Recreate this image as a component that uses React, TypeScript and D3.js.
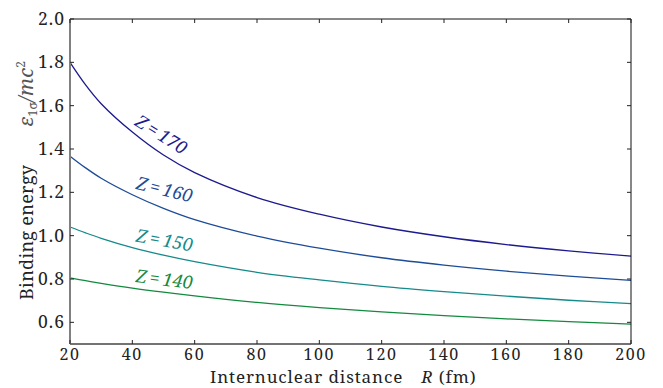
import React from "react";
import * as d3 from "d3";

const distances = [20, 25, 30, 40, 50, 60, 80, 100, 120, 140, 160, 180, 200];
const z170 = [1.80, 1.696, 1.609, 1.478, 1.372, 1.291, 1.176, 1.099, 1.040, 0.995, 0.959, 0.930, 0.906];
const z160 = [1.367, 1.313, 1.265, 1.189, 1.126, 1.074, 0.998, 0.942, 0.898, 0.864, 0.836, 0.813, 0.794];
const z150 = [1.040, 1.013, 0.988, 0.945, 0.910, 0.880, 0.831, 0.796, 0.766, 0.742, 0.721, 0.702, 0.686];
const z140 = [0.805, 0.792, 0.780, 0.758, 0.739, 0.722, 0.692, 0.668, 0.648, 0.631, 0.616, 0.603, 0.592];
const seriesNames = ["170", "160", "150", "140"];
const seriesColors = ["#1c1a8e", "#1d4c98", "#168a8a", "#138a3e"];
const xTicks = [20, 40, 60, 80, 100, 120, 140, 160, 180, 200];
const yTicks = [0.6, 0.8, 1.0, 1.2, 1.4, 1.6, 1.8, 2.0];
// label anchor distances & rotations
const labelR = [39.5, 40, 40, 40];
const labelRot = [32, 14, 10, 7];

export default function App() {
  const W = 663, H = 388;
  const left = 70, right = 631, top = 19, bottom = 344;
  const x = d3.scaleLinear().domain([20, 200]).range([left, right]);
  const y = d3.scaleLinear().domain([0.5, 2.0]).range([bottom, top]);
  const all = [z170, z160, z150, z140];
  const line = d3
    .line<number>()
    .x((_, i) => x(distances[i]))
    .y((d) => y(d))
    .curve(d3.curveCatmullRom.alpha(0.5));
  const interp = (arr: number[], r: number) => {
    for (let i = 0; i < distances.length - 1; i++) {
      if (r >= distances[i] && r <= distances[i + 1]) {
        const t = (r - distances[i]) / (distances[i + 1] - distances[i]);
        return arr[i] + t * (arr[i + 1] - arr[i]);
      }
    }
    return arr[arr.length - 1];
  };
  const font = "'Noto Serif', serif";
  return (
    <svg width={W} height={H} style={{ position: "absolute", left: 0, top: 0, fontFamily: font }}>
      <rect x={0} y={0} width={W} height={H} fill="#fff" />
      {all.map((arr, k) => (
        <path key={k} d={line(arr) || ""} fill="none" stroke={seriesColors[k]} strokeWidth={1.3} />
      ))}
      {all.map((arr, k) => {
        const r = labelR[k];
        const px = x(r) + 3;
        const py = y(interp(arr, r)) - 6;
        return (
          <text
            key={"l" + k}
            transform={`translate(${px},${py}) rotate(${labelRot[k]})`}
            fill={seriesColors[k]}
            fontSize={18}
            fontStyle="italic"
          >
            Z<tspan fontStyle="normal" dx={3}>=</tspan>
            <tspan dx={3}>{seriesNames[k]}</tspan>
          </text>
        );
      })}
      {/* frame */}
      <line x1={left} x2={right} y1={top} y2={top} stroke="#111" strokeWidth={1} />
      <line x1={right} x2={right} y1={top} y2={bottom} stroke="#111" strokeWidth={1} />
      <line x1={left} x2={right} y1={bottom} y2={bottom} stroke="#444" strokeWidth={1.5} />
      <line x1={left} x2={left} y1={top} y2={bottom} stroke="#808080" strokeWidth={2} />
      {xTicks.map((t) => (
        <g key={"x" + t}>
          <line x1={x(t)} x2={x(t)} y1={bottom} y2={bottom - 4} stroke="#222" />
          <line x1={x(t)} x2={x(t)} y1={top} y2={top + 4} stroke="#222" />
          <text x={x(t)} y={360} textAnchor="middle" fontSize={16} letterSpacing={1.6} fill="#222">
            {t}
          </text>
        </g>
      ))}
      {yTicks.map((t) => (
        <g key={"y" + t}>
          <line x1={left} x2={left + 4} y1={y(t)} y2={y(t)} stroke="#222" />
          <line x1={right} x2={right - 4} y1={y(t)} y2={y(t)} stroke="#222" />
          <text x={65} y={y(t) + 6} textAnchor="end" fontSize={17.5} letterSpacing={1} fill="#222">
            {t.toFixed(1)}
          </text>
        </g>
      ))}
      <text x={210} y={383} fontSize={17} letterSpacing={0.9} fill="#222">
        Internuclear distance
        <tspan dx={18} fontStyle="italic">R</tspan>
        <tspan> (fm)</tspan>
      </text>
      <text transform="translate(33,300) rotate(-90)" fontSize={18} letterSpacing={0.3} fill="#222">
        Binding energy
        <tspan dx={38} fontStyle="italic" fill="#555" fontSize={20}>ε</tspan>
        <tspan fontSize={12} dy={4} fill="#555">1σ</tspan>
        <tspan dy={-4} fill="#555" fontStyle="italic" fontSize={20}>/mc</tspan>
        <tspan fontSize={12} dy={-8} fill="#555">2</tspan>
      </text>
    </svg>
  );
}
